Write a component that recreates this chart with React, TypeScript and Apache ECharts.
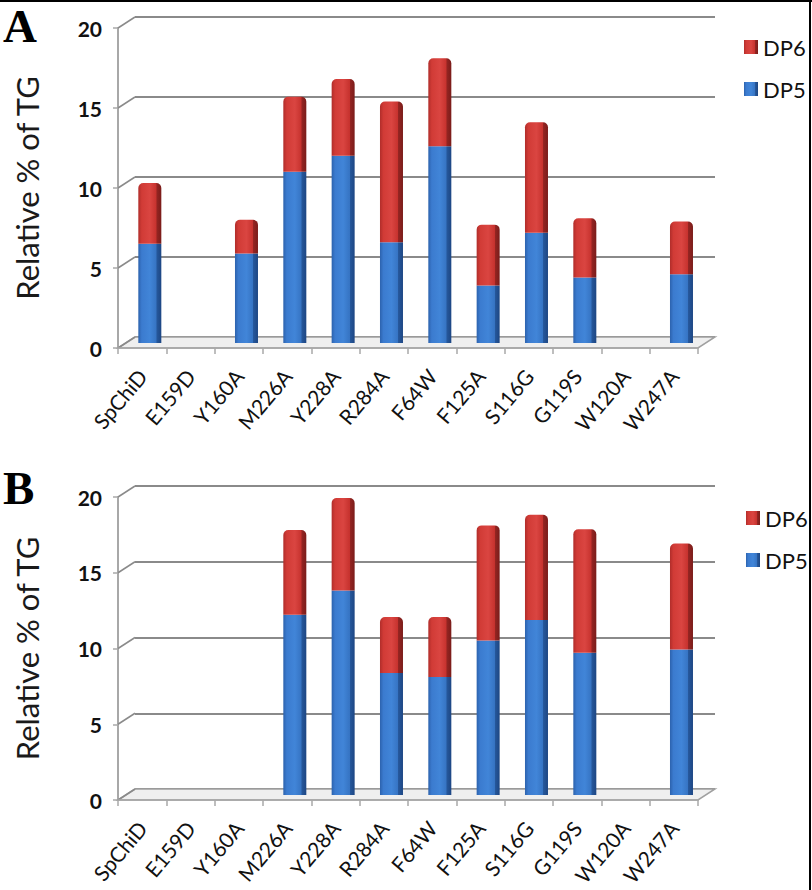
import React, { useEffect, useRef } from "react";
import * as echarts from "echarts";

// ---- data ----
const categories = ["SpChiD", "E159D", "Y160A", "M226A", "Y228A", "R284A", "F64W", "F125A", "S116G", "G119S", "W120A", "W247A"];
const dp5A = [6.2, 0, 5.6, 10.7, 11.7, 6.3, 12.3, 3.6, 6.9, 4.1, 0, 4.3];
const dp6A = [3.8, 0, 2.1, 4.7, 4.8, 8.8, 5.5, 3.8, 6.9, 3.7, 0, 3.3];
const dp5B = [0, 0, 0, 11.9, 13.5, 8.05, 7.8, 10.2, 11.55, 9.4, 0, 9.6];
const dp6B = [0, 0, 0, 5.6, 6.1, 3.7, 3.95, 7.6, 6.95, 8.15, 0, 7.0];
const yTicks = [0, 5, 10, 15, 20];
const legendNames = ["DP6", "DP5"];
const yTitle = "Relative % of TG";

// ---- layout ----
const W = 812;
const H = 890;
const FRONT_LEFT = 118;
const FRONT_RIGHT = 698;
const DX = 17;
const DY = -11;
const BAR_DEPTH = 0.45;
const FONT = "Lato, 'Open Sans', sans-serif";

const panels = [
  { label: "A", y0: 348, y20: 28, legendTop: 31, legendLeft: 739, dp5: dp5A, dp6: dp6A, letterY: 2 },
  { label: "B", y0: 800, y20: 497, legendTop: 502, legendLeft: 741, dp5: dp5B, dp6: dp6B, letterY: 464 },
];

const blueGrad = () =>
  new echarts.graphic.LinearGradient(0, 0, 1, 0, [
    { offset: 0, color: "#2c62ad" },
    { offset: 0.15, color: "#3b7bcf" },
    { offset: 0.5, color: "#4185d8" },
    { offset: 0.78, color: "#3674c3" },
    { offset: 0.8, color: "#26589c" },
    { offset: 1, color: "#1d4683" },
  ]);
const redGrad = () =>
  new echarts.graphic.LinearGradient(0, 0, 1, 0, [
    { offset: 0, color: "#b02d2a" },
    { offset: 0.15, color: "#d13b36" },
    { offset: 0.5, color: "#da4541" },
    { offset: 0.78, color: "#c6322e" },
    { offset: 0.8, color: "#952522" },
    { offset: 1, color: "#7a1c1a" },
  ]);

function buildOption() {
  const grid: any[] = [];
  const xAxis: any[] = [];
  const yAxis: any[] = [];
  const series: any[] = [];
  const legend: any[] = [];
  const graphic: any[] = [];
  const width = FRONT_RIGHT - FRONT_LEFT;

  panels.forEach((P, pi) => {
    const height = P.y0 - P.y20;
    const base = pi * 3;
    grid.push({ left: FRONT_LEFT + DX, top: P.y20 + DY, width, height });
    grid.push({ left: FRONT_LEFT, top: P.y20, width, height });
    grid.push({ left: FRONT_LEFT + DX * BAR_DEPTH, top: P.y20 + DY * BAR_DEPTH, width, height });

    xAxis.push({ type: "category", gridIndex: base, data: categories, show: false });
    yAxis.push({
      type: "value", gridIndex: base, min: 0, max: 20, interval: 5,
      axisLine: { show: false }, axisTick: { show: false }, axisLabel: { show: false },
      splitLine: { show: true, lineStyle: { color: "#8a8a8a", width: 2 } },
    });
    xAxis.push({
      type: "category", gridIndex: base + 1, data: categories,
      axisLine: { show: true, lineStyle: { color: "#a8a8a8", width: 1.5 } },
      axisTick: { show: true, length: 6, lineStyle: { color: "#a8a8a8", width: 1.5 } },
      axisLabel: { rotate: 50, margin: 24, fontSize: 21, fontFamily: FONT, color: "#111" },
      splitLine: { show: false },
      z: 3,
    });
    yAxis.push({
      type: "value", gridIndex: base + 1, min: 0, max: 20, interval: 5,
      axisLine: { show: true, lineStyle: { color: "#a8a8a8", width: 2 } },
      axisTick: { show: true, length: 5, lineStyle: { color: "#a8a8a8", width: 1.5 } },
      axisLabel: { margin: 16, fontSize: 21, fontWeight: "bold", fontFamily: FONT, color: "#111" },
      splitLine: { show: false },
      name: yTitle, nameLocation: "middle", nameRotate: 90, nameGap: 76,
      nameTextStyle: { fontSize: 31, fontFamily: FONT, color: "#1a1a1a" },
    });
    xAxis.push({ type: "category", gridIndex: base + 2, data: categories, show: false });
    yAxis.push({ type: "value", gridIndex: base + 2, min: 0, max: 20, interval: 5, show: false, splitLine: { show: false } });

    series.push({
      name: "DP5", type: "bar", stack: "s" + pi, xAxisIndex: base + 2, yAxisIndex: base + 2,
      data: P.dp5, barWidth: 23, itemStyle: { color: blueGrad() }, z: 4,
    });
    series.push({
      name: "DP6", type: "bar", stack: "s" + pi, xAxisIndex: base + 2, yAxisIndex: base + 2,
      data: P.dp6, barWidth: 23, itemStyle: { color: redGrad(), borderRadius: [5, 5, 0, 0] }, z: 4,
    });

    legend.push({
      data: legendNames, orient: "vertical", left: P.legendLeft, top: P.legendTop,
      itemWidth: 14, itemHeight: 14, itemGap: 20, icon: "rect",
      textStyle: { fontSize: 22, fontFamily: FONT, color: "#111" },
    });

    const pxPerUnit = height / 20;
    graphic.push({
      type: "polygon", z: 1,
      shape: { points: [[FRONT_LEFT, P.y0], [FRONT_RIGHT, P.y0], [FRONT_RIGHT + DX, P.y0 + DY], [FRONT_LEFT + DX, P.y0 + DY]] },
      style: { fill: "#efefef", stroke: "#a0a0a0", lineWidth: 1.5 },
    });
    yTicks.forEach((t) => {
      const y = P.y0 - t * pxPerUnit;
      graphic.push({
        type: "line", z: 1,
        shape: { x1: FRONT_LEFT, y1: y, x2: FRONT_LEFT + DX, y2: y + DY },
        style: { stroke: "#8a8a8a", lineWidth: 1.5 },
      });
    });
    graphic.push({
      type: "text", left: 3, top: P.letterY, z: 10,
      style: { text: P.label, fontSize: 47, fontWeight: "bold", fontFamily: "'Liberation Serif', 'DejaVu Serif', serif", fill: "#000" },
    });
  });

  graphic.push({ type: "rect", z: 10, shape: { x: 0, y: 0, width: W, height: 2 }, style: { fill: "#000" } });
  graphic.push({ type: "rect", z: 10, shape: { x: 809, y: 0, width: 2, height: H }, style: { fill: "#000" } });

  return {
    animation: false,
    backgroundColor: "#fff",
    grid, xAxis, yAxis, series, legend, graphic,
  };
}

export default function App() {
  const ref = useRef<HTMLDivElement>(null);
  useEffect(() => {
    document.body.style.margin = "0";
    const chart = echarts.init(ref.current!, null, { renderer: "svg", width: W, height: H });
    chart.setOption(buildOption() as any);
    return () => chart.dispose();
  }, []);
  return <div ref={ref} style={{ width: W, height: H }} />;
}
